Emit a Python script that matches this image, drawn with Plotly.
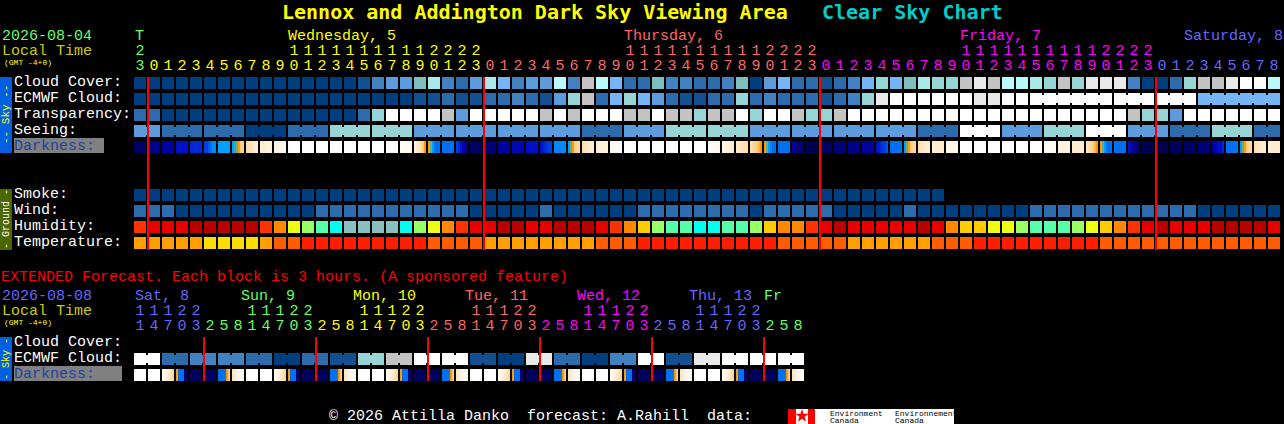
import plotly.graph_objects as go

# --- values, one entry per hour block ---
hours = [23,
         0, 1, 2, 3, 4, 5, 6, 7, 8, 9, 10, 11, 12, 13, 14, 15, 16, 17, 18, 19, 20, 21, 22, 23,
         0, 1, 2, 3, 4, 5, 6, 7, 8, 9, 10, 11, 12, 13, 14, 15, 16, 17, 18, 19, 20, 21, 22, 23,
         0, 1, 2, 3, 4, 5, 6, 7, 8, 9, 10, 11, 12, 13, 14, 15, 16, 17, 18, 19, 20, 21, 22, 23,
         0, 1, 2, 3, 4, 5, 6, 7, 8]
hour_days = ['green'] + ['yellow'] * 24 + ['salmon'] * 24 + ['magenta'] * 24 + ['blue'] * 9

cloud_cover = [0, 0, 0, 0, 0, 0, 0, 0, 0, 0, 0, 0, 0, 0, 0, 0, 1, 3, 4, 4, 6, 8, 3, 2, 4,
               8, 5, 3, 4, 4, 9, 3, 10, 9, 5, 2, 2, 6, 3, 3, 2, 2, 3, 6, 0, 4, 5, 2, 2,
               1, 2, 3, 5, 7, 5, 6, 8, 7, 7, 10, 11, 10, 9, 9, 8, 7, 10, 7, 11, 11, 11, 3, 0,
               0, 2, 7, 10, 10, 11, 12, 12, 9]
ecmwf_cloud = [0, 0, 0, 0, 0, 0, 0, 0, 0, 0, 0, 0, 0, 0, 0, 0, 0, 0, 0, 0, 1, 1, 2, 1, 1,
               2, 2, 3, 2, 1, 4, 7, 10, 2, 5, 7, 5, 4, 2, 1, 1, 2, 2, 7, 2, 3, 2, 2, 2,
               1, 2, 3, 7, 11, 12, 12, 12, 12, 12, 12, 11, 11, 12, 12, 12, 12, 12, 12, 12, 12, 12, 12, 12,
               12, 12, 12, 5, 5, 5, 5, 5, 5]
ecmwf_links = [64, 65, 66, 67, 68, 70, 71, 73, 74, 76, 77, 78, 79, 80]
transparency = [2, 2, 0, 0, 0, 0, 0, 0, 0, 0, 0, 0, 0, 0, 0, 0, 2, 7, 12, 12, 12, 12, 10, 4, 12,
                12, 12, 12, 12, 10, 12, 10, 12, 12, 12, 10, 10, 12, 10, 10, 7, 10, 10, 12, 7, 12, 12, 10, 7,
                7, 10, 12, 12, 12, 12, 12, 12, 12, 12, 12, 12, 12, 12, 12, 12, 12, 12, 12, 12, 12, 12, 10, 7,
                7, 4, 12, 12, 12, 12, 12, 12, 12]
# seeing comes in 3 hour groups, first and last group only have 2 blocks
seeing_groups = [4, 2, 2, 0, 2, 7, 7, 4, 4, 4, 4, 2, 4, 7, 7, 4, 4, 4, 4, 2, 12, 4, 7, 12, 4, 2, 7, 2]
smoke = [0] * 58
wind = [2, 2, 2, 0, 0, 0, 0, 0, 0, 0, 0, 0, 0, 2, 2, 2, 2, 2, 2, 2, 2, 2, 2, 2, 0,
        0, 0, 0, 0, 2, 0, 0, 0, 0, 0, 0, 2, 2, 2, 2, 2, 2, 2, 2, 0, 2, 2, 2, 2,
        2, 0, 0, 0, 0, 0, 2, 0, 0, 0, 0, 0, 0, 0, 0, 2, 2, 2, 2, 2, 2, 2, 2, 2,
        2, 2, 2, 0, 0, 0, 0, 0, 0]
humidity = ['a', 'b', 'b', 'b', 'c', 'c', 'c', 'c', 'c', 'a', 'd', 'f', 'g', 'h', 'i', 'j', 'j', 'j', 'j', 'i', 'g', 'f', 'd', 'a', 'b',
            'b', 'c', 'c', 'b', 'b', 'c', 'c', 'c', 'b', 'a', 'd', 'e', 'g', 'h', 'h', 'i', 'i', 'h', 'h', 'g', 'e', 'd', 'd', 'a',
            'b', 'c', 'b', 'b', 'b', 'b', 'b', 'c', 'b', 'd', 'e', 'e', 'f', 'f', 'g', 'h', 'h', 'h', 'g', 'f', 'e', 'd', 'a', 'b',
            'c', 'b', 'b', 'b', 'c', 'c', 'c', 'c', 'b']
temperature = ['o', 'o', 'o', 'o', 'o', 'y', 'y', 'y', 'y', 'o', 'r', 'r', 'R', 'R', 'R', 'R', 'R', 'R', 'R', 'R', 'R', 'r', 'r', 'r', 'r',
               'o', 'o', 'o', 'o', 'o', 'o', 'o', 'o', 'r', 'r', 'r', 'R', 'R', 'R', 'R', 'R', 'R', 'R', 'R', 'R', 'R', 'r', 'r', 'r',
               'r', 'r', 'o', 'o', 'o', 'o', 'o', 'o', 'r', 'r', 'r', 'R', 'R', 'R', 'R', 'R', 'R', 'R', 'R', 'R', 'r', 'r', 'r', 'r',
               'r', 'r', 'r', 'r', 'r', 'r', 'r', 'r', 'r']
# darkness changes inside a block around dusk and dawn, those blocks have 6 samples
darkness = [[0.5], [1.5], [2], [3], [3.5], [4, 4, 4.5, 5, 5.5, 5.5], [6],
            [6, 6.5, 7, 7.5, 8, 8.2], [8.5, 8.6, 8.7, 8.8, 9, 9], [9, 9, 9.1, 9.2, 9.2, 9.2], [9.3, 9.3, 9.4, 9.5, 9.6, 9.6], [9.7, 9.8, 9.9, 10, 10, 10],
            [10], [10], [10], [10], [10], [10], [10],
            [9.9, 9.8, 9.7, 9.6, 9.5, 9.4], [9.2, 9, 8.8, 8.5, 8, 7.5], [7.5, 7, 6, 5, 5, 5], [5], [4, 3.5, 3, 2.5, 2, 1.5], [0.5],
            [1], [2], [2.5], [3], [3, 3.2, 3.5, 3.8, 4, 4], [5.5], [6, 7, 7.5, 8, 8.2, 8.4], [8.5, 8.7, 8.8, 9, 9, 9], [9, 9.1, 9.2, 9.3, 9.3, 9.3], [9.5, 9.5, 9.6, 9.7, 9.7, 9.8],
            [10], [10], [10], [10], [10], [10], [9.8, 9.7, 9.7, 9.6, 9.6, 9.5], [9.4, 9.3, 9.2, 9.1, 9, 9], [9, 8.9, 8.8, 8.7, 8.6, 8.5], [8.5, 8.4, 8.2, 8, 7.8, 7.5],
            [7.5, 7, 6, 5.5, 5, 5], [5], [2, 1.5, 1, 1, 1, 1], [0], [0.5], [1], [1.5],
            [2], [3, 3.2, 3.5, 3.8, 4, 4.5], [5], [6, 7, 7.5, 8, 8.2, 8.4], [8.5, 8.7, 8.8, 9, 9, 9], [9], [9.5],
            [10], [10], [10], [10], [10], [10], [9.8], [9.3], [9],
            [8.8, 8.6, 8.4, 8.1, 7.8, 7.5], [7.5, 7, 6, 5, 5, 5], [5], [3, 2.5, 2, 1.5, 1, 1], [0], [0], [0.3], [0.5], [1],
            [2, 2.2, 2.5, 2.8, 3, 3.5], [5], [6, 7, 7.5, 8, 8.2, 8.4], [8.5, 8.7, 8.8, 9, 9, 9], [9]]

ext_hours = [11, 14, 17, 20, 23,
             2, 5, 8, 11, 14, 17, 20, 23,
             2, 5, 8, 11, 14, 17, 20, 23,
             2, 5, 8, 11, 14, 17, 20, 23,
             2, 5, 8, 11, 14, 17, 20, 23,
             2, 5, 8, 11, 14, 17, 20, 23,
             2, 5, 8]
ext_days = ['blue'] * 5 + ['green'] * 8 + ['yellow'] * 8 + ['salmon'] * 8 + ['magenta'] * 8 + ['blue'] * 8 + ['green'] * 3
# ecmwf extended comes in pairs of blocks
ext_ecmwf_pairs = [12, 2, 3, 3, 2, 0, 2, 1, 7, 10, 12, 12, 1, 0, 11, 2, 0, 3, 12, 1, 11, 12, 12, 12]
before_dusk = [9.8, 9.5, 9.2, 9, 8.7, 8.3]
at_dusk = [7.5, 5, 5, 5, 1, 0.5]
at_dawn = [5, 5, 5, 5, 7.5, 8]
after_dawn = [8.8, 9, 9.3, 9.5, 9.7, 9.8]
ext_darkness = [[10], [10], before_dusk, at_dusk, [0.3], [0.5], at_dawn, after_dawn,
                [10], [10], before_dusk, at_dusk, [0.3], [0.3], at_dawn, after_dawn,
                [10], [10], before_dusk, at_dusk, [0.3], [0.3], at_dawn, after_dawn,
                [10], [10], before_dusk, at_dusk, [0.3], [0.3], at_dawn, after_dawn,
                [10], [10], before_dusk, at_dusk, [0.3], [0.3], at_dawn, after_dawn,
                [10], [10], before_dusk, at_dusk, [0.3], [0.3], at_dawn, after_dawn]

row_names = ['Cloud Cover:', 'ECMWF Cloud:', 'Transparency:', 'Seeing:']
ground_names = ['Smoke:', 'Wind:', 'Humidity:', 'Temperature:']

# --- colours ---
sky_colors = ['#003F7F', '#13508F', '#2C6CAC', '#4282C2', '#5C9CDC', '#75B5F5', '#7EBEBE',
              '#95D5D5', '#A9E9E9', '#B9F9F9', '#C3C3C3', '#E9E9E9', '#FFFFFF']
humidity_colors = {'a': '#FF3300', 'b': '#E80000', 'c': '#B80000', 'd': '#FF8800', 'e': '#FFCC00',
                   'f': '#EEFF11', 'g': '#99FF66', 'h': '#55FFAA', 'i': '#00FFEE', 'j': '#88C0C0'}
temp_colors = {'o': '#FF9F00', 'y': '#FFDD00', 'r': '#FF5E00', 'R': '#FF1F00'}
day_colors = {'green': '#66FF66', 'yellow': '#FFFF00', 'salmon': '#FF6666', 'magenta': '#FF00FF', 'blue': '#6666FF'}
dark_scale = [[0, '#000050'], [0.1, '#000078'], [0.2, '#0000A0'], [0.3, '#0010C8'], [0.4, '#0040E0'],
              [0.5, '#0070F0'], [0.6, '#00A0FF'], [0.7, '#60B090'], [0.75, '#FF9900'], [0.8, '#FFCC80'],
              [0.9, '#FFEBCF'], [0.95, '#FFF8EC'], [1, '#FFFFFF']]

FONT = 'Liberation Mono'
BOLD_FONT = 'DejaVu Sans Mono'
X0 = 134
STEP = 14
CELL = 12
EXT_FIRST_LINE = 5

fig = go.Figure()


def centre(i):
    return X0 + STEP * i + CELL / 2


def block_row(levels, top, palette, links=()):
    fig.add_trace(go.Bar(x=[centre(i) for i in range(len(levels))], y=[CELL] * len(levels),
                         base=top, width=CELL,
                         marker=dict(color=[palette[v] for v in levels], line_width=0),
                         hoverinfo='skip'))
    if links:
        fig.add_trace(go.Bar(x=[X0 + STEP * i + CELL + 1 for i in links], y=[CELL - 4] * len(links),
                             base=top + 2, width=STEP - CELL,
                             marker=dict(color=[palette[levels[i]] for i in links], line_width=0),
                             hoverinfo='skip'))


def dark_row(blocks, top):
    xs, z = [], []
    for i, b in enumerate(blocks):
        samples = b * 6 if len(b) == 1 else b
        for s, v in enumerate(samples):
            xs.append(X0 + STEP * i + 2 * s)
            z.append(v)
        xs.append(X0 + STEP * i + CELL)
        z.append(None)
    xs.append(X0 + STEP * len(blocks))
    fig.add_trace(go.Heatmap(x=xs, y=[top, top + CELL], z=[z], zmin=0, zmax=10, colorscale=dark_scale,
                             showscale=False, hoverinfo='skip'))


def digits(hs, days, y_tens, y_units):
    colors = [day_colors[d] for d in days]
    xs = [centre(i) for i in range(len(hs))]
    fig.add_trace(go.Scatter(x=xs, y=[y_tens] * len(hs), mode='text',
                             text=[str(h // 10) if h >= 10 else '' for h in hs],
                             textfont=dict(family=FONT, size=15, color=colors), hoverinfo='skip'))
    fig.add_trace(go.Scatter(x=xs, y=[y_units] * len(hs), mode='text',
                             text=[str(h % 10) for h in hs],
                             textfont=dict(family=FONT, size=15, color=colors), hoverinfo='skip'))


def label(x, y, text, color='#FFFFFF', size=15, anchor='left', angle=0, weight='normal', family=FONT):
    fig.add_annotation(x=x, y=y, text=text, showarrow=False, xanchor=anchor, yanchor='middle',
                       textangle=angle, borderpad=0,
                       font=dict(family=family, size=size, color=color, weight=weight))


def box(x0, x1, y0, y1, color):
    fig.add_shape(type='rect', x0=x0, x1=x1, y0=y0, y1=y1, fillcolor=color, line_width=0, layer='below')


# main forecast
seeing = []
seeing_links = []
for g, level in enumerate(seeing_groups):
    size = 2 if g == 0 or g == len(seeing_groups) - 1 else 3
    seeing_links += [len(seeing) + k for k in range(size - 1)]
    seeing += [level] * size

block_row(cloud_cover, 77, sky_colors)
block_row(ecmwf_cloud, 93, sky_colors, ecmwf_links)
block_row(transparency, 109, sky_colors)
block_row(seeing, 125, sky_colors, seeing_links)
dark_row(darkness, 141)
block_row(smoke, 189, sky_colors)
block_row(wind, 205, sky_colors)
block_row(humidity, 221, humidity_colors)
block_row(temperature, 237, temp_colors)

# extended forecast
ext_ecmwf = []
ext_links = []
for level in ext_ecmwf_pairs:
    ext_links.append(len(ext_ecmwf))
    ext_ecmwf += [level, level]
block_row(ext_ecmwf, 353, sky_colors, ext_links)
dark_row(ext_darkness, 369)

digits(hours, hour_days, 51, 66)
digits(ext_hours, ext_days, 311, 326)

# midnight lines, drawn as thin bars so they stay on whole pixels
main_lines = [X0 + STEP * (1 + 24 * i) for i in range(4)]
ext_lines = [X0 + STEP * (EXT_FIRST_LINE + 8 * i) for i in range(6)]
fig.add_trace(go.Bar(x=main_lines, y=[173] * 4, base=77, width=2,
                     marker=dict(color='#FF0000', line_width=0), hoverinfo='skip'))
fig.add_trace(go.Bar(x=ext_lines, y=[44] * 6, base=337, width=2,
                     marker=dict(color='#FF0000', line_width=0), hoverinfo='skip'))

# title
label(281, 12, 'Lennox and Addington Dark Sky Viewing Area', '#FFFF00', 20, weight='bold', family=BOLD_FONT)
label(821, 12, 'Clear Sky Chart', '#00CCCC', 20, weight='bold', family=BOLD_FONT)

# header
label(1, 36, '2026-08-04', day_colors['green'])
label(1, 51, 'Local Time', '#CCCC00')
label(3, 62, '(GMT -4+0)', '#FFFF00', 8)
label(134, 36, 'T', day_colors['green'])
label(287, 36, 'Wednesday, 5', day_colors['yellow'])
label(623, 36, 'Thursday, 6', day_colors['salmon'])
label(959, 36, 'Friday, 7', day_colors['magenta'])
label(1284, 36, 'Saturday, 8', day_colors['blue'], anchor='right')

# row names and side strips
for k, name in enumerate(row_names):
    label(13, 82 + 16 * k, name)
box(14, 104, 138, 153, '#808080')
label(13, 146, 'Darkness:', '#2040A0')
for k, name in enumerate(ground_names):
    label(13, 194 + 16 * k, name)
box(0, 12, 77, 153, '#0060E0')
label(6, 115, '-- Sky --', '#FFFF00', 11, anchor='center', angle=-90)
box(0, 12, 189, 250, '#4C6600')
label(6, 219, '- Ground -', '#FFFFFF', 10, anchor='center', angle=-90)

# extended header
label(0, 277, 'EXTENDED Forecast. Each block is 3 hours. (A sponsored feature)', '#FF0000')
label(1, 296, '2026-08-08', day_colors['blue'])
label(1, 311, 'Local Time', '#CCCC00')
label(3, 322, '(GMT -4+0)', '#FFFF00', 8)
label(134, 296, 'Sat, 8', day_colors['blue'])
label(240, 296, 'Sun, 9', day_colors['green'])
label(352, 296, 'Mon, 10', day_colors['yellow'])
label(464, 296, 'Tue, 11', day_colors['salmon'])
label(576, 296, 'Wed, 12', day_colors['magenta'])
label(688, 296, 'Thu, 13', day_colors['blue'])
label(763, 296, 'Fr', day_colors['green'])
label(13, 342, 'Cloud Cover:')
label(13, 358, 'ECMWF Cloud:')
box(14, 122, 366, 381, '#808080')
label(13, 374, 'Darkness:', '#2040A0')
box(0, 12, 337, 381, '#0060E0')
label(6, 359, '- Sky -', '#FFFF00', 10, anchor='center', angle=-90)

# footer and logo
label(328, 416, '© 2026 Attilla Danko  forecast: A.Rahill  data:')
box(788, 954, 409, 424, '#FFFFFF')
box(788, 796, 409, 424, '#FF0000')
box(808, 815, 409, 424, '#FF0000')
fig.add_trace(go.Scatter(x=[802], y=[416], mode='markers', hoverinfo='skip',
                         marker=dict(symbol='star', size=10, color='#FF0000')))
label(829, 413, 'Environment', '#000000', 8)
label(829, 420, 'Canada', '#000000', 8)
label(894, 413, 'Environnement', '#000000', 8)
label(894, 420, 'Canada', '#000000', 8)

fig.update_layout(width=1284, height=424, margin=dict(l=0, r=0, t=0, b=0), showlegend=False,
                  paper_bgcolor='#000000', plot_bgcolor='#000000', barmode='overlay',
                  xaxis=dict(range=[0, 1284], visible=False, fixedrange=True),
                  yaxis=dict(range=[424, 0], visible=False, fixedrange=True))

fig.write_html("out.html", config={'displayModeBar': False},
               post_script="document.body.style.margin='0';document.body.style.overflow='hidden';")
